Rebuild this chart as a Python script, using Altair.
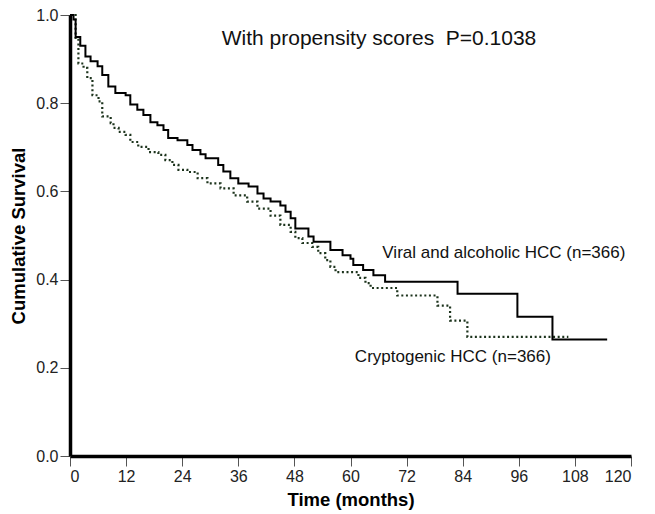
import altair as alt
import pandas as pd

# Viral and alcoholic HCC (solid)
viral_t = [0, 0.75, 1.2, 2.2, 3.3, 4.4, 5.9, 6.9, 8.2, 9.7, 11.9, 12.9, 14.4, 15.7, 17.2, 18.7,
           20.0, 21.0, 23.0, 25.1, 26.2, 27.9, 29.0, 31.7, 32.8, 34.3, 36.0, 38.2, 40.1, 41.4,
           42.9, 45.0, 46.1, 47.2, 48.2, 51.0, 52.1, 55.7, 58.3, 60.0, 60.6, 62.7, 64.9, 67.4,
           82.9, 95.7, 103.2, 114.9]
viral_s = [1.0, 0.99, 0.95, 0.93, 0.906, 0.895, 0.884, 0.864, 0.838, 0.823, 0.818, 0.797, 0.785,
           0.773, 0.757, 0.75, 0.739, 0.721, 0.716, 0.705, 0.694, 0.684, 0.675, 0.66, 0.645, 0.63,
           0.618, 0.611, 0.595, 0.584, 0.577, 0.568, 0.554, 0.539, 0.516, 0.498, 0.486, 0.467,
           0.455, 0.447, 0.433, 0.422, 0.41, 0.395, 0.368, 0.316, 0.264, 0.264]

# Cryptogenic HCC (dotted)
crypto_t = [0, 1.2, 1.8, 2.9, 3.7, 4.8, 6.1, 6.9, 8.7, 9.3, 10.4, 11.9, 12.9, 14.6, 16.8, 18.9,
            20.4, 21.9, 23.2, 25.1, 27.3, 29.4, 32.2, 35.0, 37.9, 40.1, 42.9, 45.0, 47.2, 48.2,
            49.7, 51.8, 53.1, 54.6, 55.7, 56.8, 61.7, 63.2, 64.3, 70.0, 78.6, 81.3, 85.0, 106.6]
crypto_s = [1.0, 0.948, 0.89, 0.88, 0.857, 0.818, 0.804, 0.77, 0.755, 0.744, 0.735, 0.728, 0.712,
            0.701, 0.689, 0.683, 0.671, 0.66, 0.649, 0.644, 0.63, 0.618, 0.607, 0.591, 0.577,
            0.561, 0.545, 0.524, 0.508, 0.494, 0.483, 0.474, 0.46, 0.444, 0.429, 0.417, 0.404,
            0.392, 0.381, 0.364, 0.341, 0.307, 0.27, 0.27]

x_ticks = [0, 12, 24, 36, 48, 60, 72, 84, 96, 108, 120]
y_ticks = [0.0, 0.2, 0.4, 0.6, 0.8, 1.0]

label_text = ["With propensity scores \u00a0P=0.1038", "Viral and alcoholic HCC (n=366)",
              "Cryptogenic HCC (n=366)"]
label_t = [66.1, 92.8, 81.9]
label_s = [0.932, 0.449, 0.213]
label_size = [21, 17, 17]

assert len(viral_t) == len(viral_s)
assert len(crypto_t) == len(crypto_s)

FONT = "Liberation Sans"

viral_df = pd.DataFrame({"t": viral_t, "s": viral_s})
crypto_df = pd.DataFrame({"t": crypto_t, "s": crypto_s})
labels_df = pd.DataFrame({"t": label_t, "s": label_s, "text": label_text, "size": label_size})

x_enc = alt.X("t:Q", scale=alt.Scale(domain=[0, 120], nice=False, zero=False),
              axis=alt.Axis(values=x_ticks, title="Time (months)", format="d"))
y_enc = alt.Y("s:Q", scale=alt.Scale(domain=[0, 1], nice=False),
              axis=alt.Axis(values=y_ticks, title="Cumulative Survival", format=".1f"))

viral = alt.Chart(viral_df).mark_line(interpolate="step-after", color="#000000",
                                      strokeWidth=2).encode(x=x_enc, y=y_enc)
crypto = alt.Chart(crypto_df).mark_line(interpolate="step-after", color="#1c331c",
                                        strokeWidth=2.2, strokeDash=[2, 2.6]).encode(x=x_enc, y=y_enc)

texts = alt.Chart(labels_df).mark_text(font=FONT, color="#111111", align="center",
                                       baseline="alphabetic").encode(
    x="t:Q", y="s:Q", text="text:N",
    size=alt.Size("size:Q", scale=None, legend=None))

chart = alt.layer(crypto, viral, texts).properties(
    width=561, height=441,
    autosize=alt.AutoSizeParams(type="none"),
    padding={"left": 62, "top": 7, "right": 16, "bottom": 57},
).configure_view(stroke=None).configure_axis(
    grid=False,
    domainColor="#000000", domainWidth=3.5,
    tickColor="#555555", tickWidth=1, tickSize=10,
    labelFont=FONT, labelFontSize=16, labelColor="#222222", labelPadding=2,
    titleFont=FONT, titleFontSize=18.5, titleFontWeight="bold", titleColor="#000000",
).configure_axisX(titlePadding=6).configure_axisY(titlePadding=7)

chart.save("out.html", embed_options={"renderer": "svg", "actions": False})
